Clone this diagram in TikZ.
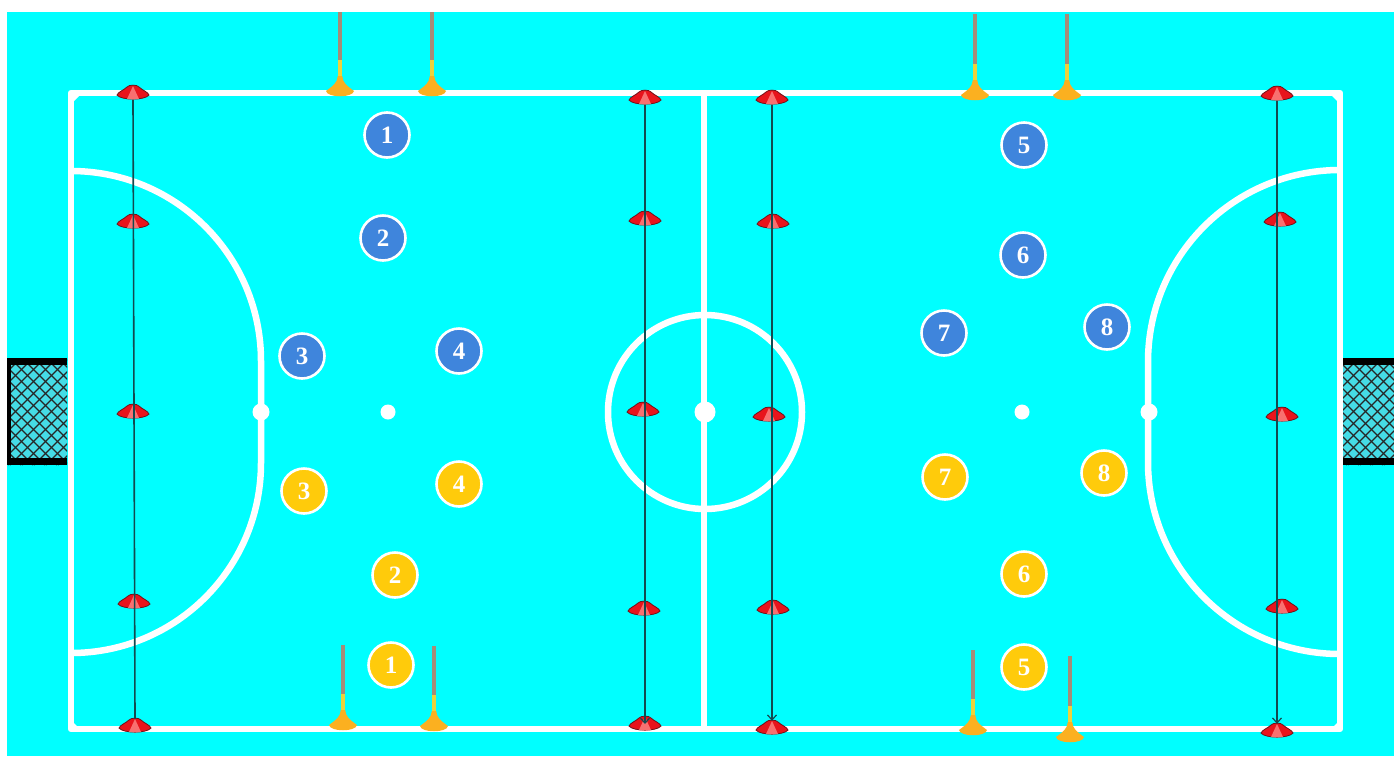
\documentclass[tikz,border=0pt]{standalone}
\usepackage{fontspec}
\setmainfont{Liberation Serif}
\usetikzlibrary{arrows.meta}
\definecolor{pitch}{HTML}{00FFFF}
\definecolor{pblue}{HTML}{3F85DC}
\definecolor{pyellow}{HTML}{FFCB0B}
\definecolor{conered}{HTML}{E8141C}
\definecolor{conelight}{HTML}{F87070}
\definecolor{conedark}{HTML}{701018}
\definecolor{runline}{HTML}{134A50}
\definecolor{polebrown}{HTML}{A58C78}
\definecolor{poleyellow}{HTML}{EDD23C}
\definecolor{poleorange}{HTML}{FBB020}
\definecolor{netfill}{HTML}{45DCE6}
\tikzset{
  x=1pt,y=-1pt,
  courtline/.style={draw=white,line width=6.5pt},
  spot/.style={circle,fill=white,draw=none,inner sep=0pt},
  player/.style={circle,draw=white,line width=2.6pt,minimum size=45pt,inner sep=0pt,
    text=white,font=\fontsize{25}{25}\selectfont\bfseries},
  blueplayer/.style={player,fill=pblue},
  yellowplayer/.style={player,fill=pyellow},
  conenode/.style={inner sep=0pt,minimum width=32pt,minimum height=14pt,draw=none},
  polenode/.style={inner sep=0pt,minimum width=30pt,minimum height=10pt,draw=none},
  runner/.style={draw=runline,line width=1.6pt},
  runnerarrow/.style={runner,-{Straight Barb[length=5pt,width=9pt,line width=1.2pt]}},
}
% flat red marker cone: name, x, y
\newcommand{\markcone}[3]{%
  \node[conenode] (#1) at (#2,#3) {};
  \begin{scope}[shift={(#2,#3)}]
    \fill[conered,draw=conedark,line width=.8pt]
      (-16,2) .. controls (-15,-1) and (-9,-3) .. (-6,-6)
      .. controls (-4,-8.5) and (4,-8.5) .. (6,-6)
      .. controls (9,-3) and (15,-1) .. (16,2)
      .. controls (12,7.5) and (-12,7.5) .. (-16,2) -- cycle;
    \fill[conelight] (0,-7) -- (6,6) .. controls (2,6.4) and (-2,6.4) .. (-6,6) -- cycle;
  \end{scope}}
% slalom pole: name, x, top y, base y
\newcommand{\markpole}[4]{%
  \node[polenode] (#1) at (#2,#4-4) {};
  \fill[polebrown] (#2-2.2,#3) rectangle (#2+2.2,#4-34);
  \fill[poleyellow] (#2-2.2,#4-34) rectangle (#2+2.2,#4-14);
  \fill[poleorange] (#2-2.2,#4-18) -- (#2+2.2,#4-18)
    .. controls (#2+3,#4-11) and (#2+6,#4-9) .. (#2+14,#4-3)
    .. controls (#2+13,#4+4) and (#2-13,#4+4) .. (#2-14,#4-3)
    .. controls (#2-6,#4-9) and (#2-3,#4-11) .. (#2-2.2,#4-18) -- cycle;}
\begin{document}
\begin{tikzpicture}
\useasboundingbox (0,0) rectangle (1394,756);
\fill[white] (0,0) rectangle (1394,756);
\fill[pitch] (7,12) rectangle (1394,756);

% goals
\begin{scope}
  \clip (7,358) rectangle (67,465);
  \fill[netfill] (7,358) rectangle (67,465);
  \foreach \k in {-110,-98,...,170}{
    \draw[black!85,line width=1.3pt] (\k,358) -- ++(107,107);
    \draw[black!85,line width=1.3pt] (\k,465) -- ++(107,-107);
  }
\end{scope}
\draw[black,line width=7.5pt] (67,361.5) -- (7,361.5);
\draw[black,line width=7.5pt] (67,461.5) -- (7,461.5);
\draw[black,line width=4pt] (9,358) -- (9,465);
\begin{scope}
  \clip (1343,358) rectangle (1394,465);
  \fill[netfill] (1343,358) rectangle (1394,465);
  \foreach \k in {1240,1252,...,1400}{
    \draw[black!85,line width=1.3pt] (\k,358) -- ++(107,107);
    \draw[black!85,line width=1.3pt] (\k,465) -- ++(107,-107);
  }
\end{scope}
\draw[black,line width=7.5pt] (1343,361.5) -- (1394,361.5);
\draw[black,line width=7.5pt] (1343,461.5) -- (1394,461.5);

% court markings
\draw[courtline,line join=round] (71,93) rectangle (1340,729);
\fill[white] (71,93) -- (82,93) -- (71,104) -- cycle;
\fill[white] (1340,93) -- (1329,93) -- (1340,104) -- cycle;
\fill[white] (71,729) -- (80,729) -- (71,720) -- cycle;
\fill[white] (1340,729) -- (1331,729) -- (1340,720) -- cycle;
\draw[courtline] (704,93) -- (704,729);
\draw[courtline] (705,412) circle[radius=97];
\draw[courtline] (71,171) arc[start angle=-90,end angle=0,radius=190] -- (261,463)
  arc[start angle=0,end angle=90,radius=190];
\draw[courtline] (1340,170) arc[start angle=-90,end angle=-180,radius=192] -- (1148,462)
  arc[start angle=180,end angle=90,radius=192];
\node[spot,minimum size=17pt] (s1) at (261,412) {};
\node[spot,minimum size=15pt] (s2) at (388,412) {};
\node[spot,minimum size=21pt] (s3) at (705,412) {};
\node[spot,minimum size=15pt] (s4) at (1022,412) {};
\node[spot,minimum size=17pt] (s5) at (1149,412) {};

% red cones
\markcone{a1}{133}{93}\markcone{a2}{133}{222}\markcone{a3}{133}{412}\markcone{a4}{134}{602}\markcone{a5}{135}{726}
\markcone{b1}{645}{98}\markcone{b2}{645}{219}\markcone{b3}{643}{410}\markcone{b4}{644}{609}\markcone{b5}{645}{724}
\markcone{c1}{772}{98}\markcone{c2}{773}{222}\markcone{c3}{769}{415}\markcone{c4}{773}{608}\markcone{c5}{772}{728}
\markcone{d1}{1277}{94}\markcone{d2}{1280}{220}\markcone{d3}{1282}{415}\markcone{d4}{1282}{607}\markcone{d5}{1277}{731}

% runs
\draw[runner] (a1.south) -- (a5.north);
\draw[runnerarrow] (b1.south) -- (b5.center);
\draw[runnerarrow] (c1.south) -- (c5.north);
\draw[runnerarrow] (d1.south) -- (d5.north);

% poles
\markpole{p1}{340}{12}{94}
\markpole{p2}{432}{12}{94}
\markpole{p3}{975}{14}{98}
\markpole{p4}{1067}{14}{98}
\markpole{p5}{343}{645}{728}
\markpole{p6}{434}{646}{729}
\markpole{p7}{973}{650}{733}
\markpole{p8}{1070}{656}{740}

% players
\node[blueplayer] (bl1) at (387,135) {1};
\node[blueplayer] (bl2) at (383,238) {2};
\node[blueplayer] (bl3) at (302,356) {3};
\node[blueplayer] (bl4) at (459,351) {4};
\node[blueplayer] (bl5) at (1024,145) {5};
\node[blueplayer] (bl6) at (1023,255) {6};
\node[blueplayer] (bl7) at (944,333) {7};
\node[blueplayer] (bl8) at (1107,327) {8};
\node[yellowplayer] (ye1) at (391,665) {1};
\node[yellowplayer] (ye2) at (395,575) {2};
\node[yellowplayer] (ye3) at (304,491) {3};
\node[yellowplayer] (ye4) at (459,484) {4};
\node[yellowplayer] (ye5) at (1024,667) {5};
\node[yellowplayer] (ye6) at (1024,574) {6};
\node[yellowplayer] (ye7) at (945,477) {7};
\node[yellowplayer] (ye8) at (1104,473) {8};
\end{tikzpicture}
\end{document}
